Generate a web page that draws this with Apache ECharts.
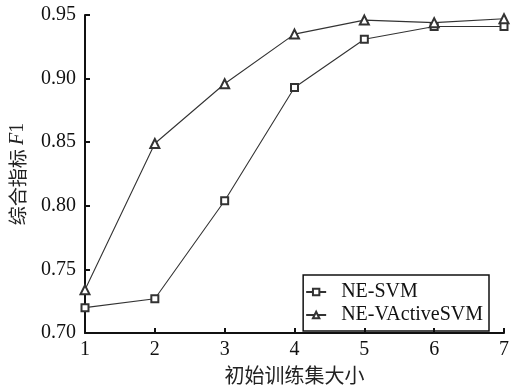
<!DOCTYPE html>
<html><head><meta charset="utf-8">
<script src="https://cdn.jsdelivr.net/npm/echarts@6/dist/echarts.min.js"></script>
<style>html,body{margin:0;padding:0;background:#fff}#c{width:516px;height:390px}</style>
</head><body><div id="c"></div>
<script>
const categories = [1, 2, 3, 4, 5, 6, 7];
const neSvm = [0.720, 0.727, 0.804, 0.893, 0.931, 0.941, 0.941];
const neVActiveSvm = [0.734, 0.849, 0.896, 0.935, 0.946, 0.944, 0.947];
const serif = '"Liberation Serif","DejaVu Serif",serif';
const cjk = '"Noto Sans CJK SC",serif';

const chart = echarts.init(document.getElementById('c'));
chart.setOption({
  animation: false,
  backgroundColor: '#fff',
  grid: {left: 84, right: 12, top: 15, bottom: 55, containLabel: false},
  legend: {
    orient: 'vertical', right: 27, bottom: 59,
    borderColor: '#111', borderWidth: 1.5, padding: [7, 6, 6, 2],
    itemGap: 3, itemWidth: 20, itemHeight: 8,
    textStyle: {fontFamily: serif, fontSize: 20, color: '#111', padding: [0, 0, 0, 10]},
    data: ['NE-SVM', 'NE-VActiveSVM']
  },
  xAxis: {
    type: 'value', min: 1, max: 7, interval: 1,
    name: '初始训练集大小', nameLocation: 'middle', nameGap: 31,
    nameTextStyle: {fontFamily: cjk, fontSize: 20, color: '#222'},
    axisLine: {lineStyle: {color: '#111', width: 2}},
    axisTick: {inside: true, length: 5, lineStyle: {color: '#111', width: 2}},
    axisLabel: {fontFamily: serif, fontSize: 20, color: '#111', margin: 7},
    splitLine: {show: false}
  },
  yAxis: {
    type: 'value', min: 0.70, max: 0.95, interval: 0.05,
    name: '{a|综合指标 }{b|F}{c|1}', nameLocation: 'middle', nameGap: 57, nameRotate: 90,
    nameTextStyle: {
      rich: {
        a: {fontFamily: cjk, fontSize: 19, color: '#222'},
        b: {fontFamily: serif, fontSize: 20, fontStyle: 'italic', color: '#222'},
        c: {fontFamily: serif, fontSize: 20, color: '#222'}
      }
    },
    axisLine: {show: true, lineStyle: {color: '#111', width: 2}},
    axisTick: {show: true, inside: true, length: 5, lineStyle: {color: '#111', width: 2}},
    axisLabel: {fontFamily: serif, fontSize: 20, color: '#111', margin: 9,
      formatter: v => v.toFixed(2)},
    splitLine: {show: false}
  },
  series: [
    {name: 'NE-SVM', type: 'line', data: categories.map((c, i) => [c, neSvm[i]]),
     symbol: 'emptyRect', symbolSize: 7, color: '#333',
     lineStyle: {width: 1.1, color: '#333'}, itemStyle: {borderWidth: 1}},
    {name: 'NE-VActiveSVM', type: 'line', data: categories.map((c, i) => [c, neVActiveSvm[i]]),
     symbol: 'emptyTriangle', symbolSize: 9, color: '#333',
     lineStyle: {width: 1.1, color: '#333'}, itemStyle: {borderWidth: 1}}
  ]
});
</script></body></html>
